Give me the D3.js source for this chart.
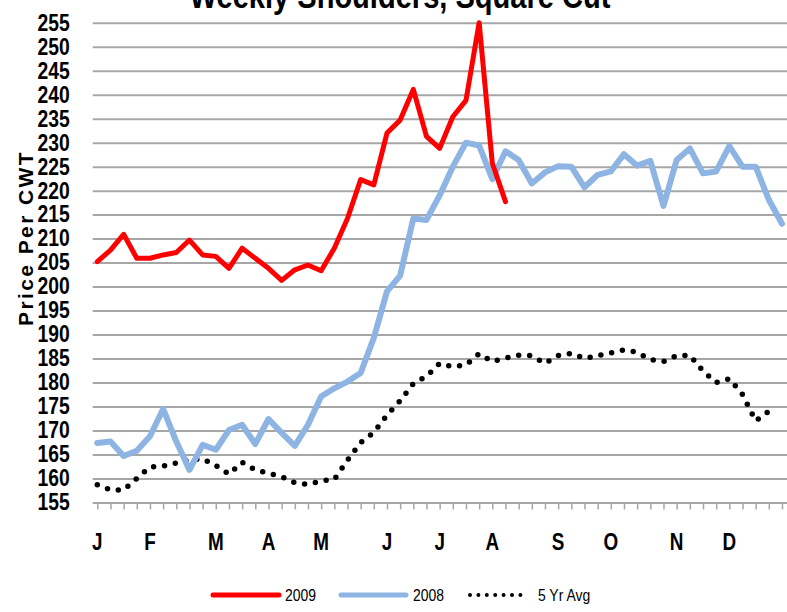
<!DOCTYPE html>
<html>
<head>
<meta charset="utf-8">
<script src="https://cdn.jsdelivr.net/npm/d3@7"></script>
<style>
    body { margin: 0; background: #fff; }
    svg { display: block; }
    text { font-family: "Liberation Sans", Arial, sans-serif; }
</style>
</head>
<body>
<div id="chart"></div>
<script>
//  categories: one per week, month initial on the first week of each month
const weekLabels = [
    "J", "", "", "",
    "F", "", "", "", "",
    "M", "", "", "",
    "A", "", "", "",
    "M", "", "", "", "",
    "J", "", "", "",
    "J", "", "", "",
    "A", "", "", "", "",
    "S", "", "", "",
    "O", "", "", "", "",
    "N", "", "", "",
    "D", "", "", "", ""
];

//  price per cwt
const values2009 = [
    205.2, 207.6, 210.9, 205.9, 205.9, 206.6, 207.1, 209.7, 206.6, 206.3,
    203.8, 208.0, 205.9, 203.8, 201.3, 203.5, 204.5, 203.3, 208.0, 214.2,
    222.3, 221.2, 232.0, 234.7, 241.1, 231.3, 228.8, 235.4, 238.8, 255.0,
    225.7, 217.7
];

const values2008 = [
    167.4, 167.7, 164.7, 165.8, 168.8, 174.5, 167.7, 161.8, 167.0, 166.0,
    170.1, 171.2, 167.2, 172.4, 169.5, 166.8, 171.2, 177.1, 178.8, 180.2,
    182.0, 189.3, 199.0, 202.3, 214.2, 213.9, 219.0, 225.0, 230.0, 229.4,
    222.4, 228.2, 226.4, 221.5, 223.8, 225.1, 225.0, 220.7, 223.3, 224.0,
    227.6, 225.2, 226.2, 216.8, 226.4, 228.8, 223.6, 224.0, 229.3, 225.0,
    225.0, 218.1, 213.1
];

const values5yr = [
    158.7, 157.6, 157.6, 160.0, 162.4, 162.6, 163.2, 163.9, 164.1, 162.7,
    160.9, 163.4, 161.8, 161.1, 160.4, 159.1, 158.8, 159.5, 159.8, 163.8,
    167.5, 169.6, 173.2, 176.2, 179.8, 181.3, 184.0, 183.3, 183.7, 186.0,
    184.4, 185.1, 185.7, 185.6, 184.0, 185.6, 186.1, 185.0, 185.6, 186.2,
    186.8, 186.3, 184.8, 184.4, 185.6, 185.7, 182.4, 180.0, 180.8, 177.5,
    172.0, 174.0
];

const yTicks = [155, 160, 165, 170, 175, 180, 185, 190, 195, 200, 205, 210,
    215, 220, 225, 230, 235, 240, 245, 250, 255];

const series = [
    { name: "2009", values: values2009, color: "#ff0000", width: 5, dots: false },
    { name: "2008", values: values2008, color: "#8db4e2", width: 6, dots: false },
    { name: "5 Yr Avg", values: values5yr, color: "#000000", width: 5.5, dots: true }
];

const width = 787, height = 612;
const plotLeft = 92.7, plotRight = 787;

//  the source picture is squeezed sideways, so its text is narrow
function squeeze(sel, k) {
    sel.each(function () {
        const len = this.getComputedTextLength();
        d3.select(this).attr("textLength", len * k).attr("lengthAdjust", "spacingAndGlyphs");
    });
}

const svg = d3.select("#chart").append("svg")
    .attr("width", width).attr("height", height);

const x = d3.scalePoint()
    .domain(weekLabels.map((d, i) => i))
    .range([97.3, 782]);

const y = d3.scaleLinear()
    .domain([155, 255])
    .range([502.5, 22.7]);

//  title (mostly off the top of the picture)
svg.append("text")
    .attr("x", 400).attr("y", 8)
    .attr("text-anchor", "middle")
    .style("font-size", "35px").style("font-weight", "bold")
    .text("Weekly Shoulders, Square Cut")
    .call(squeeze, 0.83);

//  gridlines and y labels
const yAxis = svg.append("g")
    .attr("transform", `translate(${plotLeft},0)`)
    .call(d3.axisLeft(y).tickValues(yTicks).tickSize(-(plotRight - plotLeft)).tickPadding(23));
yAxis.select(".domain").remove();
yAxis.selectAll(".tick line").attr("stroke", "#a6a6a6").attr("stroke-width", 2);
yAxis.selectAll(".tick text")
    .attr("font-family", null)
    .style("font-size", "23px").style("font-weight", "bold")
    .attr("fill", "#000")
    .call(squeeze, 0.84);

//  y title
svg.append("text")
    .attr("transform", `translate(33,238) rotate(-90)`)
    .attr("text-anchor", "middle")
    .style("font-size", "21px").style("font-weight", "bold")
    .style("letter-spacing", "2.4px")
    .text("Price Per CWT");

//  x axis: week ticks
const xAxis = svg.append("g")
    .attr("transform", `translate(0,${y(155)})`)
    .call(d3.axisBottom(x).tickSize(7).tickFormat(""));
xAxis.select(".domain").remove();
xAxis.selectAll(".tick line").attr("stroke", "#a6a6a6").attr("stroke-width", 1.5);

//  month labels
svg.append("g").selectAll("text")
    .data(weekLabels.map((d, i) => ({ label: d, week: i })).filter(d => d.label !== ""))
    .join("text")
    .attr("x", d => x(d.week))
    .attr("y", 550)
    .attr("text-anchor", "middle")
    .style("font-size", "23px").style("font-weight", "bold")
    .text(d => d.label)
    .call(squeeze, 0.82);

//  lines
const line = d3.line()
    .x((d, i) => x(i))
    .y(d => y(d));

[series[2], series[1], series[0]].forEach(s => {
    const p = svg.append("path")
        .datum(s.values)
        .attr("d", line)
        .attr("fill", "none")
        .attr("stroke", s.color)
        .attr("stroke-width", s.width)
        .attr("stroke-linejoin", "round")
        .attr("stroke-linecap", "round");
    if (s.dots) p.attr("stroke-dasharray", "0 11");
});

//  legend
const legendItems = [
    { s: series[0], x0: 213, x1: 279, tx: 285 },
    { s: series[1], x0: 341, x1: 406, tx: 413 },
    { s: series[2], x0: 470, x1: 521, tx: 538 }
];
const legend = svg.append("g");
legendItems.forEach(d => {
    const l = legend.append("line")
        .attr("x1", d.x0).attr("x2", d.x1)
        .attr("y1", 595).attr("y2", 595)
        .attr("stroke", d.s.color)
        .attr("stroke-linecap", "round");
    if (d.s.dots) {
        l.attr("stroke-width", 4).attr("stroke-dasharray", "0 8.4");
    } else {
        l.attr("stroke-width", 5);
    }
    legend.append("text")
        .attr("x", d.tx).attr("y", 601)
        .style("font-size", "17px")
        .text(d.s.name)
        .call(squeeze, 0.82);
});
</script>
</body>
</html>
